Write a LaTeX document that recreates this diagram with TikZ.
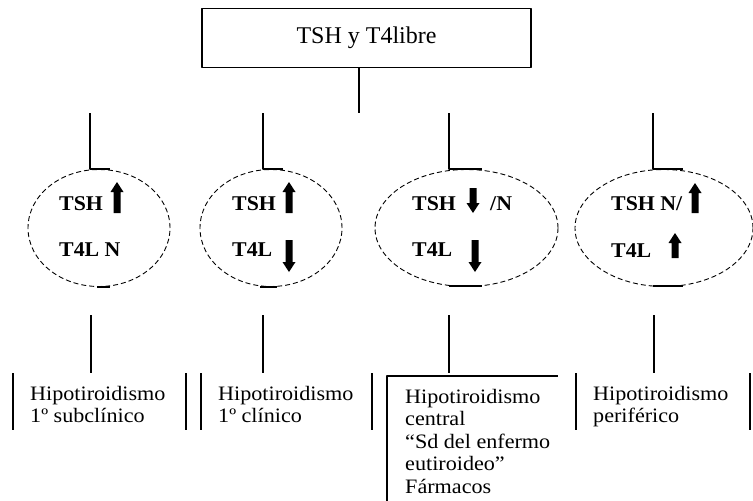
\documentclass[tikz,border=0pt]{standalone}
\usepackage{fontspec}
\setmainfont{Liberation Serif}
\newfontfamily\ancha[FakeStretch=1.08]{Liberation Serif}
\newfontfamily\anchanegra[FakeStretch=1.04]{Liberation Serif}
\usetikzlibrary{shapes.geometric}
% flechas gruesas: x, punta, fin
\newcommand{\flechasube}[3]{\fill (#1-3.5,#3) -- (#1-3.5,#2+10) -- (#1-6.5,#2+10) -- (#1,#2) -- (#1+6.5,#2+10) -- (#1+3.5,#2+10) -- (#1+3.5,#3) -- cycle;}
\newcommand{\flechabaja}[3]{\fill (#1-3.5,#3) -- (#1-3.5,#2-10) -- (#1-6.5,#2-10) -- (#1,#2) -- (#1+6.5,#2-10) -- (#1+3.5,#2-10) -- (#1+3.5,#3) -- cycle;}
\tikzset{
  linea/.style={line width=1.3pt},
  caja/.style={draw, line width=1.2pt, minimum width=329pt, minimum height=59pt, inner sep=0pt, font=\fontsize{24}{28}\selectfont},
  ovalo/.style={ellipse, draw, dash pattern=on 5pt off 3pt, line width=0.9pt, minimum height=117pt, inner sep=0pt},
  dato/.style={anchor=base west, inner sep=0pt, font=\anchanegra\bfseries\fontsize{21}{24}\selectfont},
  texto/.style={anchor=north west, inner sep=0pt, align=left, font=\ancha\fontsize{20.5}{22.5}\selectfont}
}
\begin{document}
\begin{tikzpicture}[x=1pt, y=-1pt, line join=round]
\useasboundingbox (0,0) rectangle (753,501);
\node[caja] (titulo) at (366.5,38) {TSH y T4libre};
\draw[linea] ([xshift=-7.5pt]titulo.south) -- ++(0,45);

% ovalos
\node[ovalo, minimum width=142pt] (e1) at (99,228) {};
\node[ovalo, minimum width=142pt] (e2) at (271,228) {};
\node[ovalo, minimum width=183pt] (e3) at (466.5,228) {};
\node[ovalo, minimum width=178pt] (e4) at (664,228) {};

\draw[linea] (e1.north) ++(-9,-56) -- ++(0,56) -- ++(20,0);
\draw[linea] (e2.north) ++(-8,-56) -- ++(0,56) -- ++(20,0);
\draw[linea] (e3.north) ++(-17.5,-56) -- ++(0,56) -- ++(33,0);
\draw[linea] (e4.north) ++(-11,-56) -- ++(0,56) -- ++(30,0);

\draw[linea] (e1.south) ++(-2,0) -- ++(13,0) (e1.south) ++(-8,28.5) -- ++(0,57.5);
\draw[linea] (e2.south) ++(-11,0) -- ++(17,0) (e2.south) ++(-8,28.5) -- ++(0,57.5);
\draw[linea] (e3.south) ++(-17.5,-1) -- ++(33,0) (e3.south) ++(-17.5,28.5) -- ++(0,57.5);
\draw[linea] (e4.south) ++(-11,-1) -- ++(30,0) (e4.south) ++(-10,28.5) -- ++(0,57.5);

% textos de los ovalos
\node[dato] (tsh1) at (59,210) {TSH};
\node[dato] (t4l1) at (59,256) {T4L N};
\flechasube{117}{182}{213}
\node[dato] (tsh2) at (232,210) {TSH};
\node[dato] (t4l2) at (232,256) {T4L};
\flechasube{289}{182}{213}
\flechabaja{289}{272}{240}
\node[dato] (tsh3) at (412,210) {TSH};
\node[dato] (n3) at (490,210) {/N};
\node[dato] (t4l3) at (412,256) {T4L};
\flechabaja{473}{213}{188}
\flechabaja{475}{272}{240}
\node[dato] (tsh4) at (611,210) {TSH N/};
\node[dato] (t4l4) at (611,257) {T4L};
\flechasube{695}{183}{213}
\flechasube{675}{233}{258}

% cuadros de abajo
\draw[linea] (13,373) -- (13,430) (186,373) -- (186,430);
\draw[linea] (201,373) -- (201,430) (372,373) -- (372,430);
\draw[linea] (387,501) -- (387,376) -- (558,376);
\draw[linea] (576,373) -- (576,430) (750,373) -- (750,430);
\node[texto] (d1) at (30,386) {Hipotiroidismo\\1º subclínico};
\node[texto] (d2) at (218,386) {Hipotiroidismo\\1º clínico};
\node[texto] (d3) at (405,389) {Hipotiroidismo\\central\\“Sd del enfermo\\eutiroideo”\\Fármacos};
\node[texto] (d4) at (593,386) {Hipotiroidismo\\periférico};
\end{tikzpicture}
\end{document}
